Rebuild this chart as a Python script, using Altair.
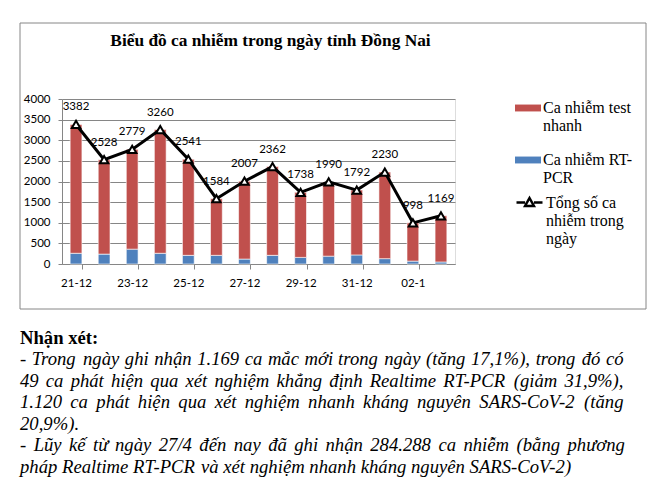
import unicodedata
import altair as alt
import pandas as pd

# ---------------- data ----------------
DATES = ["21-12", "22-12", "23-12", "24-12", "25-12", "26-12", "27-12",
         "28-12", "29-12", "30-12", "31-12", "01-1", "02-1", "03-1"]
TOTAL = [3382, 2528, 2779, 3260, 2541, 1584, 2007, 2362, 1738, 1990, 1792, 2230, 998, 1169]
RT_PCR = [260, 240, 360, 260, 210, 210, 120, 210, 160, 190, 220, 130, 70, 49]
TEST_NHANH = [3122, 2288, 2419, 3000, 2331, 1374, 1887, 2152, 1578, 1800, 1572, 2100, 928, 1120]
SHOWN_LABELS = ["21-12", "23-12", "25-12", "27-12", "29-12", "31-12", "02-1"]

SERIES_TEST = "Ca nhiễm test\nnhanh"
SERIES_RT = "Ca nhiễm RT-\nPCR"
SERIES_TOTAL = "Tổng số ca\nnhiễm trong\nngày"

TITLE = "Biểu đồ ca nhiễm trong ngày tỉnh Đồng Nai"
NOTE_HEAD = "Nhận xét:"
NOTE_LINES = [
    "- Trong ngày ghi nhận 1.169 ca mắc mới trong ngày (tăng 17,1%), trong đó có",
    "49 ca phát hiện qua xét nghiệm khẳng định Realtime RT-PCR (giảm 31,9%),",
    "1.120 ca phát hiện qua xét nghiệm nhanh kháng nguyên SARS-CoV-2 (tăng",
    "20,9%).",
    "- Lũy kế từ ngày 27/4 đến nay đã ghi nhận 284.288 ca nhiễm (bằng phương",
    "pháp Realtime RT-PCR và xét nghiệm nhanh kháng nguyên SARS-CoV-2)",
]
NOTE_JUSTIFIED = [True, True, True, False, True, False]

RED = "#C0504D"
BLUE = "#4F81BD"
GRID = "#868686"
NUM_FONT = "Lato"
SERIF = "Liberation Serif"

# ---------------- layout (pixels, relative to the plot area) ----------------
NOTE_FONT = 18.67
NOTE_LEFT = -42
NOTE_RIGHT = 561.5
NOTE_TOP = 266
NOTE_LH = 21.5

# Times italic advance widths (1/1000 em) used to justify the note lines
_W = {" ": 250, "!": 333, "%": 833, "(": 333, ")": 333, ",": 250, "-": 333, ".": 250, "/": 278, ":": 333,
      "A": 611, "B": 611, "C": 667, "D": 722, "E": 611, "F": 611, "G": 722, "H": 722, "I": 333, "J": 444,
      "K": 667, "L": 556, "M": 833, "N": 667, "O": 722, "P": 611, "Q": 722, "R": 611, "S": 500, "T": 556,
      "U": 722, "V": 611, "W": 833, "X": 611, "Y": 556, "Z": 556,
      "a": 500, "b": 500, "c": 444, "d": 500, "e": 444, "f": 278, "g": 500, "h": 500, "i": 278, "j": 278,
      "k": 444, "l": 278, "m": 722, "n": 500, "o": 500, "p": 500, "q": 500, "r": 389, "s": 389, "t": 278,
      "u": 500, "v": 444, "w": 667, "x": 444, "y": 444, "z": 389}
for _d in "0123456789":
    _W[_d] = 500


def _cw(c):
    if c in _W:
        return _W[c]
    if c == "đ":
        return 500
    if c == "Đ":
        return 722
    return _W.get(unicodedata.normalize("NFD", c)[0], 500)


def _ww(word):
    return sum(_cw(c) for c in word) * NOTE_FONT / 1000.0


word_rows = []
for i, (line, just) in enumerate(zip(NOTE_LINES, NOTE_JUSTIFIED)):
    words = line.split(" ")
    widths = [_ww(w) for w in words]
    if just and len(words) > 1:
        gap = (NOTE_RIGHT - NOTE_LEFT - sum(widths)) / (len(words) - 1)
    else:
        gap = _W[" "] * NOTE_FONT / 1000.0
    xpos = NOTE_LEFT
    for w, wd in zip(words, widths):
        word_rows.append({"word": w, "px": xpos, "py": NOTE_TOP + i * NOTE_LH})
        xpos += wd + gap
df_words = pd.DataFrame(word_rows)

# ---------------- tables ----------------
rows = []
for d, r, t in zip(DATES, RT_PCR, TEST_NHANH):
    rows.append({"date": d, "series": SERIES_RT, "value": r, "ord": 0})
    rows.append({"date": d, "series": SERIES_TEST, "value": t, "ord": 1})
df_bars = pd.DataFrame(rows)
df_tot = pd.DataFrame({"date": DATES, "total": TOTAL, "series": [SERIES_TOTAL] * len(DATES)})

shown_js = "[" + ",".join("'%s'" % s for s in SHOWN_LABELS) + "]"

x_scale = alt.Scale(paddingInner=0.58, paddingOuter=0.29)
x_axis = alt.Axis(
    labelAngle=0, labelFont=NUM_FONT, labelFontSize=11.5, labelColor="black",
    labelExpr="indexof(%s, datum.value) >= 0 ? datum.label : ''" % shown_js,
    tickBand="extent", tickSize=5, tickColor=GRID, domainColor=GRID,
    tickOpacity={"condition": {"test": "indexof(%s, datum.value) >= 0" % shown_js, "value": 1}, "value": 0},
    labelPadding=8, labelBaseline="top", grid=False, labelOverlap=False,
)
y_scale = alt.Scale(domain=[0, 4000], nice=False)
y_axis = alt.Axis(
    tickCount=8, format="d", labelFont=NUM_FONT, labelFontSize=11.5,
    labelColor="black", tickSize=4, tickColor=GRID, domainColor=GRID, gridColor=GRID,
    gridWidth=1, labelPadding=8, grid=True, labelOverlap=False,
)


def X():
    return alt.X("date:O", sort=DATES, title=None, scale=x_scale, axis=x_axis)


def Y(field):
    return alt.Y(field, title=None, scale=y_scale, axis=y_axis)


frame = alt.Chart(alt.Data(values=[{}])).mark_rect(
    filled=False, stroke=GRID, strokeWidth=1
).encode(x=alt.value(-42), x2=alt.value(584), y=alt.value(-76), y2=alt.value(210))

title = alt.Chart(alt.Data(values=[{}])).mark_text(
    text=TITLE, font=SERIF, fontSize=17.33, fontWeight="bold", align="center", baseline="alphabetic", color="black"
).encode(x=alt.value(208.5), y=alt.value(-53))

bars = alt.Chart(df_bars).mark_bar(stroke="white", strokeWidth=0.6).encode(
    x=X(),
    y=alt.Y("value:Q", stack="zero", title=None, scale=y_scale, axis=y_axis),
    color=alt.Color(
        "series:N",
        scale=alt.Scale(domain=[SERIES_TEST, SERIES_RT], range=[RED, BLUE]),
        legend=alt.Legend(
            title=None, orient="none", legendX=453, legendY=1,
            symbolType="M-1,-0.65H1V-0.12H-1Z", symbolSize=676, symbolStrokeWidth=0,
            labelFont=SERIF, labelFontSize=16, labelColor="black", labelBaseline="alphabetic",
            labelExpr="split(datum.label, '\\n')", labelOffset=2, rowPadding=18, padding=0,
        ),
    ),
    order=alt.Order("ord:Q"),
)

line = alt.Chart(df_tot).mark_line(strokeWidth=3).encode(
    x=X(),
    y=Y("total:Q"),
    stroke=alt.Stroke(
        "series:N",
        scale=alt.Scale(domain=[SERIES_TOTAL], range=["black"]),
        legend=alt.Legend(
            title=None, orient="none", legendX=453, legendY=94,
            symbolType="M-1,-0.385H-0.34M0.34,-0.385H1M0,-0.73L0.34,-0.115L-0.34,-0.115Z",
            symbolSize=676, symbolStrokeWidth=2.5, symbolFillColor="white", symbolStrokeColor="black",
            labelFont=SERIF, labelFontSize=16, labelColor="black", labelBaseline="alphabetic",
            labelExpr="split(datum.label, '\\n')", labelOffset=2, padding=0,
        ),
    ),
)

points = alt.Chart(df_tot).mark_point(
    shape="triangle-up", filled=True, fill="white", stroke="black", strokeWidth=2, size=70, opacity=1
).encode(x=X(), y=Y("total:Q"))

labels = alt.Chart(df_tot).mark_text(
    dy=-17, font=NUM_FONT, fontSize=11.5, color="black"
).encode(x=X(), y=Y("total:Q"), text="total:Q")

note_head = alt.Chart(alt.Data(values=[{}])).mark_text(
    text=NOTE_HEAD, font=SERIF, fontSize=18.67, fontWeight="bold", align="left", baseline="alphabetic", color="black"
).encode(x=alt.value(-42), y=alt.value(245))

note_body = alt.Chart(df_words).mark_text(
    font=SERIF, fontSize=NOTE_FONT, fontStyle="italic", align="left", baseline="alphabetic", color="black"
).encode(
    x=alt.X("px:Q", scale=None, axis=None),
    y=alt.Y("py:Q", scale=None, axis=None),
    text="word:N",
)

chart = alt.layer(frame, title, bars, line, points, labels, note_head, note_body).properties(
    width=393, height=165,
    autosize=alt.AutoSizeParams(type="none"),
    padding={"left": 54, "top": 91, "right": 199, "bottom": 222},
).configure_view(stroke=None).configure(background="white")

chart.save("out.html", embed_options={"renderer": "svg", "actions": False})
